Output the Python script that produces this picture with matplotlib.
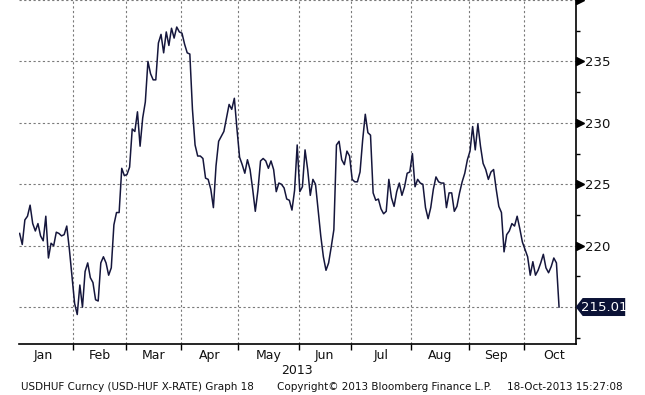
import numpy as np
import pandas as pd
import matplotlib
matplotlib.use('Agg')
import matplotlib.pyplot as plt
from matplotlib.patches import Polygon
import matplotlib.transforms as mtransforms

# ---------------- data ----------------
start_date = '2013-01-03'
usdhuf = [
    221.0, 220.1, 222.1, 222.4, 223.3, 221.8, 221.2, 221.8, 220.8, 220.4,   # idx 2-11
    222.4, 219.0, 220.2, 220.0, 221.1, 221.0, 220.8, 220.9, 221.6, 219.7,   # 12-21
    217.5, 215.3, 214.4, 216.8, 215.0, 217.9, 218.6, 217.4, 217.0, 215.6,   # 22-31
    215.5, 218.6, 219.1, 218.6, 217.6, 218.2, 221.7, 222.7, 222.7, 226.3,   # 32-41
    225.7, 225.8, 226.4, 229.5, 229.3, 230.9, 228.1, 230.4, 231.7, 235.0,   # 42-51
    234.0, 233.5, 233.5, 236.5, 237.2, 235.7, 237.4, 236.3, 237.7, 236.9,   # 52-61
    237.8, 237.4, 237.3, 236.4, 235.7, 235.6, 231.1, 228.2, 227.3, 227.3,   # 62-71
    227.1, 225.5, 225.4, 224.6, 223.1, 226.5, 228.5, 228.9, 229.3, 230.4,   # 72-81
    231.5, 231.1, 232.0, 229.5, 227.2, 226.6, 225.9, 227.0, 226.2, 224.6,   # 82-91
    222.8, 224.5, 226.9, 227.1, 226.9, 226.3, 226.9, 226.2, 224.4, 225.1,   # 92-101
    225.0, 224.7, 223.8, 223.7, 222.9, 224.5, 228.2, 224.4, 224.8, 227.8,   # 102-111
    226.2, 224.1, 225.4, 225.0, 222.9, 220.8, 219.1, 218.0, 218.6, 219.9,   # 112-121
    221.3, 228.2, 228.5, 227.0, 226.6, 227.7, 227.3, 225.4, 225.2, 225.2,   # 122-131
    226.0, 228.6, 230.7, 229.2, 229.0, 224.3, 223.7, 223.8, 223.0, 222.6,   # 132-141
    222.8, 225.4, 223.9, 223.2, 224.4, 225.1, 224.1, 224.8, 225.9, 226.0,   # 142-151
    227.5, 224.8, 225.4, 225.1, 225.0, 223.1, 222.2, 223.1, 224.6, 225.6,   # 152-161
    225.2, 225.1, 225.1, 223.1, 224.3, 224.3, 222.8, 223.2, 224.3, 225.2,   # 162-171
    225.9, 227.0, 227.7, 229.7, 227.8, 229.9, 228.1, 226.7, 226.2, 225.4,   # 172-181
    226.0, 226.2, 224.6, 223.2, 222.7, 219.5, 220.9, 221.2, 221.8, 221.6,   # 182-191
    222.4, 221.4, 220.3, 219.7, 219.1, 217.6, 218.7, 217.6, 218.0, 218.6,   # 192-201
    219.3, 218.2, 217.8, 218.3, 219.0, 218.6, 215.01,                       # 202-208
]
last_label = '215.01'
month_labels = ['Jan', 'Feb', 'Mar', 'Apr', 'May', 'Jun', 'Jul', 'Aug', 'Sep', 'Oct']
year_label = '2013'
y_major = [215, 220, 225, 230, 235, 240]
y_minor = [212.5, 217.5, 222.5, 227.5, 232.5, 237.5]
footer_left = 'USDHUF Curncy (USD-HUF X-RATE) Graph 18'
footer_mid = 'Copyright\u00a9 2013 Bloomberg Finance L.P.'
footer_right = '18-Oct-2013 15:27:08'

# ---------------- positions on a business-day axis ----------------
dates = pd.bdate_range(start_date, periods=len(usdhuf))
origin = np.datetime64('2013-01-01')
xpos = np.busday_count(origin, dates.values.astype('datetime64[D]'))
month_starts = pd.date_range('2013-01-01', periods=11, freq='MS')
bounds = np.busday_count(origin, month_starts.values.astype('datetime64[D]')) - 0.5
mids = (bounds[:-1] + bounds[1:]) / 2

W, H = 645, 395
fig = plt.figure(figsize=(W / 100, H / 100), dpi=100)
fig.patch.set_facecolor('white')
ax_l, ax_r, ax_t, ax_b = 19, 575.7, 0, 344
ax = fig.add_axes([ax_l / W, 1 - ax_b / H, (ax_r - ax_l) / W, (ax_b - ax_t) / H])
ax.set_facecolor('white')

ax.plot(xpos, usdhuf, color='#15163c', lw=1.1, zorder=3)

ax.set_xlim(1.76, 214.36)
ax.set_ylim(212.0, 240.0)

# grid
grid_kw = dict(color='#7a7a7a', lw=0.8, ls=(0, (2, 2.2)), zorder=1)
for b in bounds[1:10]:
    ax.axvline(b, **grid_kw)
for v in y_major:
    ax.axhline(v, **grid_kw)

# spines
for s in ['left', 'top']:
    ax.spines[s].set_visible(False)
for s in ['right', 'bottom']:
    ax.spines[s].set_color('black')
    ax.spines[s].set_linewidth(1.2)

# x ticks
ax.set_xticks(bounds[1:10])
ax.set_xticklabels([''] * 9)
ax.tick_params(axis='x', which='major', length=4, width=1, direction='out', color='black')
ax.set_xticks(mids, minor=True)
ax.set_xticklabels(month_labels, minor=True)
ax.tick_params(axis='x', which='minor', length=0, pad=3.5, labelsize=9, labelcolor='#111111')

# y ticks on right (215 hidden under the last-value box, 240 cut off at the top)
ax.yaxis.tick_right()
ax.set_yticks(y_major)
ax.set_yticklabels(['' if v in (215, 240) else str(v) for v in y_major])
ax.tick_params(axis='y', which='major', length=0, pad=6.8, labelsize=9.5, labelcolor='#111111')
ax.set_yticks(y_minor, minor=True)
ax.tick_params(axis='y', which='minor', length=3, width=1, direction='out', color='black')

# triangle tick markers
ytrans = ax.get_yaxis_transform()
tri_y = [v for v in y_major if v != 215]
ax.plot([1.0075] * len(tri_y), tri_y, transform=ytrans, marker='>', ms=5.5,
        ls='none', color='black', clip_on=False, zorder=5)

# last value box
fig.canvas.draw()
y_disp = ax.transData.transform((0, usdhuf[-1]))[1]
x0 = ax.transAxes.transform((1, 0))[0]
hh = 9
poly = Polygon([[x0, y_disp], [x0 + 7, y_disp + hh], [x0 + 49.5, y_disp + hh],
                [x0 + 49.5, y_disp - hh], [x0 + 7, y_disp - hh]],
               closed=True, transform=mtransforms.IdentityTransform(),
               facecolor='#0b1236', edgecolor='none', zorder=10)
fig.add_artist(poly)
fig.text((x0 + 28.5) / W, y_disp / H, last_label, color='white', fontsize=9.5,
         ha='center', va='center', zorder=11)

# year and footer
fig.text(297 / W, 1 - 370 / H, year_label, ha='center', va='center', fontsize=9, color='#111111')
fig.text(21 / W, 1 - 386.5 / H, footer_left, ha='left', va='center', fontsize=7.5, color='#111111')
fig.text(277 / W, 1 - 386.5 / H, footer_mid, ha='left', va='center', fontsize=7.5, color='#111111')
fig.text(623 / W, 1 - 386.5 / H, footer_right, ha='right', va='center', fontsize=7.5, color='#111111')

fig.savefig('out.png', dpi=100, facecolor='white')
